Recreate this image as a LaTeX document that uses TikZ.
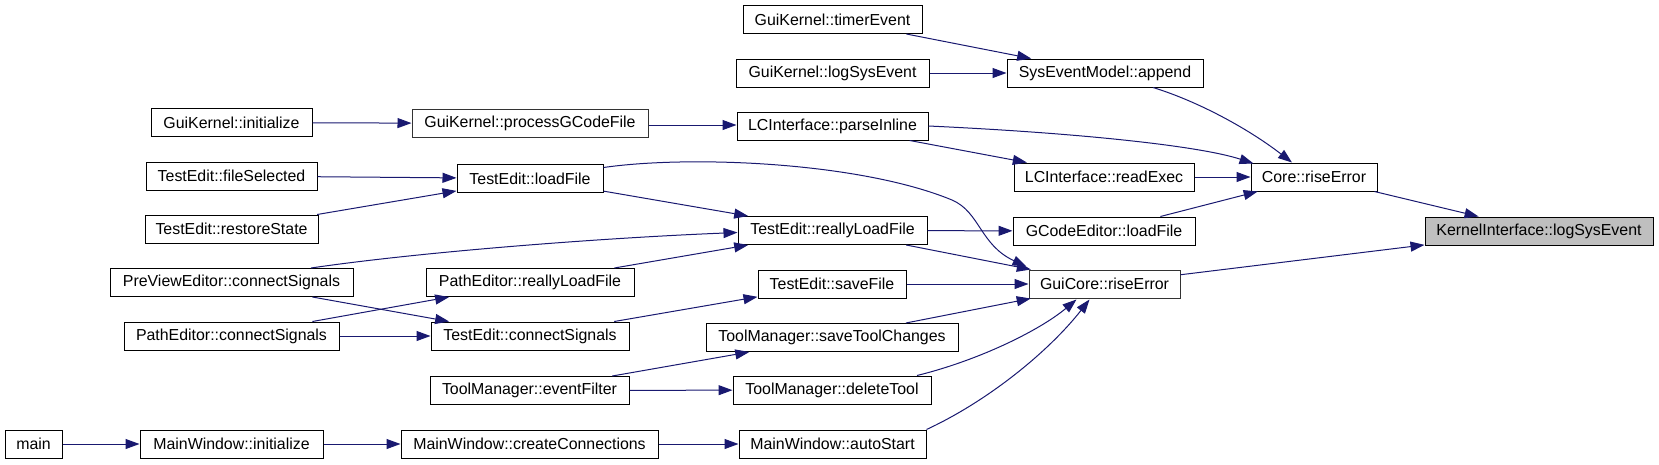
\documentclass[tikz,border=0pt]{standalone}
\usepackage{fontspec}
\setmainfont{Liberation Sans}
\usetikzlibrary{arrows.meta,calc}
\definecolor{edgeblue}{HTML}{191970}
\definecolor{kfill}{HTML}{BFBFBF}
\definecolor{lnkgray}{HTML}{333333}
\begin{document}
\begin{tikzpicture}[x=1pt,y=-1pt,
  nd/.style={draw=black, line width=1.0pt, rectangle, inner sep=0pt, minimum height=28pt,
    font=\fontsize{15.9}{18}\selectfont, fill=white},
  lnk/.style={draw=lnkgray},
  cur/.style={fill=kfill},
  edge/.style={draw=edgeblue, line width=1.0pt, -{Triangle[length=14pt,width=10pt]}}]
\useasboundingbox (0,0) rectangle (1659,464);
% column 0
\node[nd, minimum width=57pt] (main) at (33.5,444) {main};
% column 1
\node[nd, minimum width=161pt] (gkinit) at (231.5,122.5) {GuiKernel::initialize};
\node[nd, minimum width=171pt] (tefs) at (231.5,176) {TestEdit::fileSelected};
\node[nd, minimum width=173pt] (ters) at (231.5,229) {TestEdit::restoreState};
\node[nd, minimum width=243pt] (pvcs) at (231.5,282.5) {PreViewEditor::connectSignals};
\node[nd, minimum width=215pt] (pecs) at (231.5,336) {PathEditor::connectSignals};
\node[nd, minimum width=183pt] (mwinit) at (231.5,444) {MainWindow::initialize};
% column 2
\node[nd, lnk, minimum width=236pt] (gkproc) at (530,123.5) {GuiKernel::processGCodeFile};
\node[nd, minimum width=146pt] (telf) at (530,178.5) {TestEdit::loadFile};
\node[nd, minimum width=208pt] (perlf) at (530,282.5) {PathEditor::reallyLoadFile};
\node[nd, minimum width=198pt] (tecs) at (530,336) {TestEdit::connectSignals};
\node[nd, minimum width=199pt] (tmef) at (529.5,390.5) {ToolManager::eventFilter};
\node[nd, minimum width=257pt] (mwcc) at (529.5,444) {MainWindow::createConnections};
% column 3
\node[nd, minimum width=179pt] (gkte) at (832.5,19.5) {GuiKernel::timerEvent};
\node[nd, minimum width=193pt] (gkls) at (832.5,73) {GuiKernel::logSysEvent};
\node[nd, minimum width=191pt] (lcpi) at (832.5,126) {LCInterface::parseInline};
\node[nd, minimum width=189pt] (terlf) at (832.5,230.5) {TestEdit::reallyLoadFile};
\node[nd, minimum width=148pt] (tesave) at (832,284) {TestEdit::saveFile};
\node[nd, minimum width=252pt] (tmsave) at (832,337.5) {ToolManager::saveToolChanges};
\node[nd, minimum width=198pt] (tmdel) at (832,390) {ToolManager::deleteTool};
\node[nd, minimum width=187pt] (mwauto) at (832.5,444) {MainWindow::autoStart};
% column 4
\node[nd, minimum width=196pt] (sem) at (1105,73) {SysEventModel::append};
\node[nd, minimum width=180pt] (lcre) at (1104,177) {LCInterface::readExec};
\node[nd, minimum width=182pt] (gcel) at (1104,231) {GCodeEditor::loadFile};
\node[nd, lnk, minimum width=151pt] (guicore) at (1104.5,284) {GuiCore::riseError};
% column 5
\node[nd, minimum width=126pt] (core) at (1314,177) {Core::riseError};
% column 6
\node[nd, cur, minimum width=228pt] (kil) at (1539,231) {KernelInterface::logSysEvent};

% edges
\draw[edge] (main) -- (mwinit);
\draw[edge] (mwinit) -- (mwcc);
\draw[edge] (mwcc) -- (mwauto);
\draw[edge] (gkinit) -- (gkproc);
\draw[edge] (gkproc.east |- 0,125) -- (lcpi.west |- 0,125);
\draw[edge] (tefs) -- (telf);
\draw[edge] (ters) -- (telf);
\draw[edge] (telf) -- (terlf);
\draw[edge] (pvcs) -- (tecs);
\draw[edge] (pecs) -- (perlf);
\draw[edge] (pecs) -- (tecs);
\draw[edge] (perlf) -- (terlf);
\draw[edge] (tecs) -- (tesave);
\draw[edge] (tmef) -- (tmsave);
\draw[edge] (tmef) -- (tmdel);
\draw[edge] (gkte) -- (sem);
\draw[edge] (gkls) -- (sem);
\draw[edge] (lcpi) -- (lcre);
\draw[edge] (lcre) -- (core);
\draw[edge] (terlf) -- (gcel);
\draw[edge] (terlf) -- (guicore);
\draw[edge] (tesave) -- (guicore);
\draw[edge] (tmsave) -- (guicore);
\draw[edge] (gcel) -- (core);
\draw[edge] (core) -- (kil);
\draw[edge] (guicore) -- (kil);
% curved edges
\draw[edge] ($(pvcs.north)+(79.5,0)$) .. controls (420,252) and (600,238) .. ($(terlf.west)+(0,2)$);
\draw[edge] ($(telf.east)+(0,-11)$) .. controls (690,155) and (860,162) .. (952,200)
  .. controls (980,212) and (980,245) .. ($(guicore.north west)+(-2,-3)$);
\draw[edge] (lcpi.east) .. controls (1080,133) and (1200,146) .. ($(core.north west)+(3,1)$);
\draw[edge] ($(sem.south)+(48,0)$) .. controls (1200,102) and (1250,130) .. ($(core.north)+(-22,0)$);
\draw[edge] ($(tmdel.north)+(85,0)$) .. controls (980,360) and (1040,330) .. ($(guicore.south)+(-28,1)$);
\draw[edge] ($(mwauto.north)+(94,0)$) .. controls (990,400) and (1050,350) .. ($(guicore.south)+(-15,1)$);
\end{tikzpicture}
\end{document}
